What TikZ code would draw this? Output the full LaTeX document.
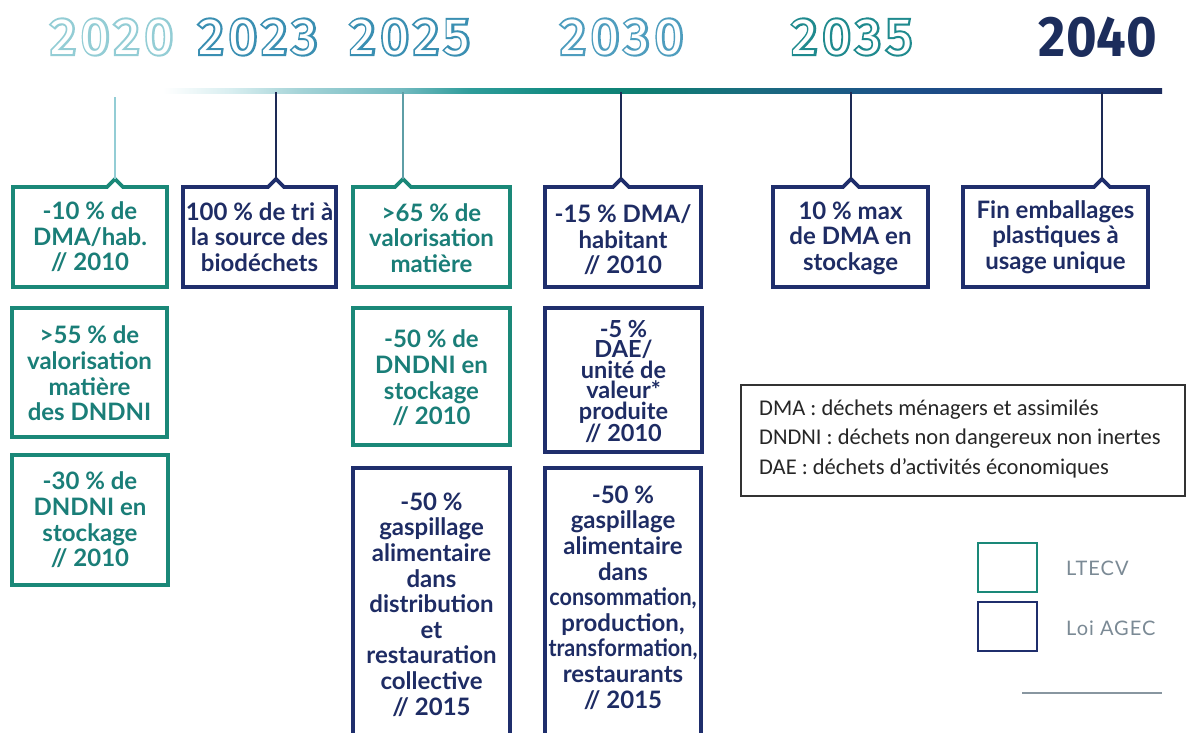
\documentclass[tikz,border=0pt]{standalone}
\usepackage{fontspec}
\usetikzlibrary{calc}
\setmainfont{Lato}
\newfontfamily\boxfont{Lato}
\newfontfamily\keyfont{Lato}[LetterSpace=5]
\newfontfamily\legfont{Carlito}
\newfontfamily\yearfont{Fira Sans}[LetterSpace=9]
\newfontfamily\yearstroke{Fira Sans}[LetterSpace=9, FakeBold=8]
\newfontfamily\yearsolid{Fira Sans}

% palette
\definecolor{ltgreen}{HTML}{1A8878}
\definecolor{ltgreentext}{HTML}{1A7E78}
\definecolor{agec}{HTML}{1F2E6C}
\definecolor{agectext}{HTML}{1E2C64}
\definecolor{yr20}{HTML}{93CDD5}
\definecolor{yr23}{HTML}{3A8FB2}
\definecolor{yr30}{HTML}{4E9DBE}
\definecolor{yr35}{HTML}{1F8A8E}
\definecolor{yr40}{HTML}{1C2D5C}
\definecolor{keygray}{HTML}{7B8A95}
\definecolor{tick25}{HTML}{5E9EA6}
\definecolor{tickdark}{HTML}{1D2A55}
% timeline gradient stops
\definecolor{tl1}{HTML}{D8EEF0}
\definecolor{tl2}{HTML}{A4D3D7}
\definecolor{tl3}{HTML}{72BAC0}
\definecolor{tl4}{HTML}{2E9C9A}
\definecolor{tl5}{HTML}{118A80}
\definecolor{tl6}{HTML}{0E7F72}
\definecolor{tl7}{HTML}{1A6A80}
\definecolor{tl8}{HTML}{1C5088}
\definecolor{tl9}{HTML}{1E3F80}
\definecolor{tl10}{HTML}{1C2C5E}

\pgfdeclarehorizontalshading{timeline}{100bp}{color(0bp)=(white); color(25bp)=(white);
  color(28.4bp)=(tl1); color(31.9bp)=(tl2); color(36.9bp)=(tl3); color(40.4bp)=(tl4);
  color(44.9bp)=(tl5); color(48.9bp)=(tl6); color(54.9bp)=(tl7); color(61.9bp)=(tl8);
  color(69.4bp)=(tl9); color(75bp)=(tl10); color(100bp)=(tl10)}

% outlined year: emboldened coloured copy under a white one
\newcommand\yrout[2]{\scalebox{1.02}[1]{\rlap{\yearstroke\color{#1}#2}\color{white}#2}}

\tikzset{
  yearlbl/.style={inner sep=0, font=\yearfont\fontsize{51}{51}\selectfont},
  yearbold/.style={inner sep=0, font=\yearsolid\bfseries\fontsize{57}{57}\selectfont},
  boxtxt/.style={align=center, inner sep=0, font=\boxfont\bfseries\fontsize{24}{25.6}\selectfont},
  lt text/.style={boxtxt, text=ltgreentext},
  agec text/.style={boxtxt, text=agectext},
  agec tight text/.style={align=center, inner sep=0, text=agectext, font=\boxfont\bfseries\fontsize{23.5}{20.6}\selectfont},
  lt frame/.style={draw=ltgreen, line width=3.6pt, line join=miter},
  agec frame/.style={draw=agec, line width=3.6pt, line join=miter},
  tickline/.style={line width=2pt},
  legtxt/.style={anchor=base west, inner sep=0, text=black!85, font=\legfont\fontsize{22.5}{29.5}\selectfont},
  keybox/.style={minimum width=59pt, minimum height=49pt, inner sep=0, line width=2.6pt},
  keylbl/.style={anchor=west, inner sep=0, text=keygray, font=\keyfont\fontsize{20}{20}\selectfont},
}

% box with a notch on its top edge where the year connector arrives
% #1 name, #2 colour key, #3 left, #4 right, #5 notch x, #6 text y, #7 text
\newcommand\notchbox[7]{%
  \draw[#2 frame] (#5-8,187) -- (#3,187) -- (#3,287) -- (#4,287) -- (#4,187) -- (#5+8,187) -- (#5,179) -- cycle;
  \coordinate (#1 peak) at (#5,179);
  \node[#2 text] (#1) at ({(#3+#4)/2},#6) {#7};}

% plain box: #1 name, #2 frame colour key, #3 x1, #4 y1, #5 x2, #6 y2, #7 text y, #8 text style, #9 text
\newcommand\plainbox[9]{%
  \draw[#2 frame] (#3,#4) rectangle (#5,#6);
  \node[#8] (#1) at ({(#3+#5)/2},#7) {#9};}

\begin{document}
\begin{tikzpicture}[x=1pt,y=-1pt]
\useasboundingbox (0,0) rectangle (1186,732);
\clip (0,0) rectangle (1186,732);
\fill[white] (0,0) rectangle (1186,732);

% years
\node[yearlbl] (y2020) at (112,37) {\yrout{yr20}{2020}};
\node[yearlbl] (y2023) at (258,37) {\yrout{yr23}{2023}};
\node[yearlbl] (y2025) at (410,37) {\yrout{yr23}{2025}};
\node[yearlbl] (y2030) at (622,37) {\yrout{yr30}{2030}};
\node[yearlbl] (y2035) at (852,37) {\yrout{yr35}{2035}};
\node[yearbold] (y2040) at (1098,37) {\scalebox{0.92}[1]{\color{yr40}2040}};

% timeline bar
\shade[shading=timeline] (163,88) rectangle (1162,93.5);
\coordinate (t2020) at (115,97);
\coordinate (t2023) at (276,92);
\coordinate (t2025) at (403,92);
\coordinate (t2030) at (621,92);
\coordinate (t2035) at (851,92);
\coordinate (t2040) at (1102,92);

% first row of targets
\notchbox{b2020}{lt}{13}{167}{115}{237}{-10 \% de\\DMA/hab.\\// 2010}
\notchbox{b2023}{agec}{183}{336}{276}{237}{100 \% de tri à\\la source des\\biodéchets}
\notchbox{b2025}{lt}{353}{510}{403}{238}{>65 \% de\\valorisation\\matière}
\notchbox{b2030}{agec}{545}{701}{621}{240}{-15 \% DMA/\\habitant\\// 2010}
\notchbox{b2035}{agec}{773}{928}{851}{238}{10 \% max\\de DMA en\\stockage}
\notchbox{b2040}{agec}{963}{1148}{1102}{237}{Fin emballages\\plastiques à\\usage unique}

% connectors from the timeline
\draw[tickline, draw=yr20] (t2020) -- (b2020 peak);
\draw[tickline, draw=tickdark] (t2023) -- (b2023 peak);
\draw[tickline, draw=tick25] (t2025) -- (b2025 peak);
\draw[tickline, draw=tickdark] (t2030) -- (b2030 peak);
\draw[tickline, draw=tickdark] (t2035) -- (b2035 peak);
\draw[tickline, draw=tickdark] (t2040) -- (b2040 peak);

% second row
\plainbox{c2020}{lt}{12}{308}{167}{437}{373.5}{lt text}{>55 \% de\\valorisation\\matière\\des DNDNI}
\plainbox{c2025}{lt}{353}{308}{510}{445}{378}{lt text}{-50 \% de\\DNDNI en\\stockage\\// 2010}
\plainbox{c2030}{agec}{545}{308}{702}{452}{381.5}{agec tight text}{-5 \%\\DAE/\\unité de\\valeur*\\produite\\// 2010}

% third row
\plainbox{d2020}{lt}{12}{455}{168}{585}{520}{lt text}{-30 \% de\\DNDNI en\\stockage\\// 2010}
\plainbox{d2025}{agec}{353}{468}{510}{760}{604.5}{agec text}{-50 \%\\gaspillage\\alimentaire\\dans\\distribution\\et\\restauration\\collective\\// 2015}
\plainbox{d2030}{agec}{545}{468}{701}{760}{597.5}{agec text}{-50 \%\\gaspillage\\alimentaire\\dans\\\scalebox{0.9}[1]{consommation,}\\production,\\\scalebox{0.9}[1]{transformation,}\\restaurants\\// 2015}

% abbreviations
\draw[line width=1.3pt, draw=black!80] (741,385) rectangle (1185,496);
\node[legtxt] (leg1) at (759,415) {DMA : déchets ménagers et assimilés};
\node[legtxt] (leg2) at (759,444.5) {DNDNI : déchets non dangereux non inertes};
\node[legtxt] (leg3) at (759,474) {DAE : déchets d’activités économiques};

% colour key
\node[keybox, draw=ltgreen] (kLT) at (1007.5,567.5) {};
\node[keybox, draw=agec] (kAG) at (1007.5,626.5) {};
\node[keylbl] (kLTtxt) at (1066,568) {LTECV};
\node[keylbl] (kAGtxt) at (1066,628) {Loi AGEC};
\draw[draw=keygray!90, line width=1.8pt] (1022,693) -- (1162,693);
\end{tikzpicture}
\end{document}
